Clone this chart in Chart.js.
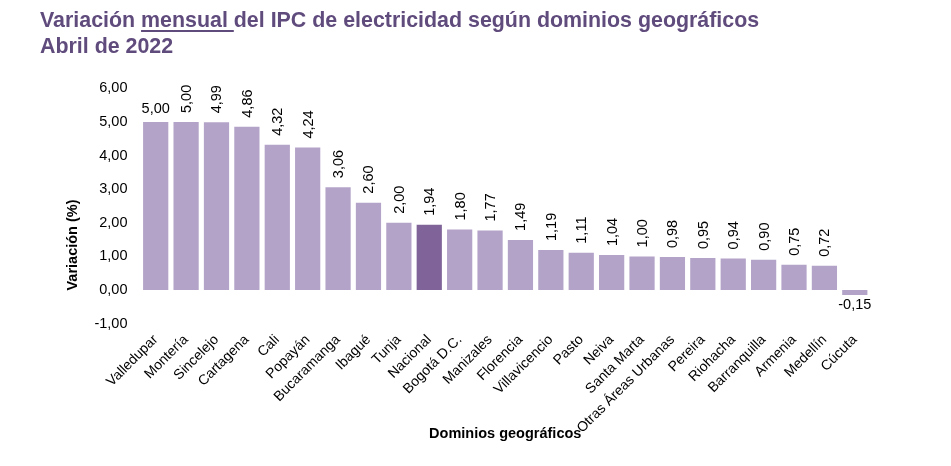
<!DOCTYPE html>
<html>
<head>
<meta charset="utf-8">
<script src="https://cdn.jsdelivr.net/npm/chart.js@4.4.0/dist/chart.umd.min.js"></script>
<style>
    html, body { margin: 0; padding: 0; background: #fff; }
    #wrap { position: relative; width: 951px; height: 466px; }
    #myChart { position: absolute; left: 0; top: 0; }
    #title {
        position: absolute; left: 40px; top: 7px;
        font: bold 21.4px/26px "Liberation Sans", Arial, sans-serif;
        color: #604b7d; white-space: nowrap;
    }
    #title u { text-decoration-thickness: 2px; text-underline-offset: 3px; }
</style>
</head>
<body>
<div id="wrap">
    <canvas id="myChart" width="951" height="466"></canvas>
    <div id="title">Variación <u>mensual </u>del IPC de electricidad según dominios geográficos<br>Abril de 2022</div>
</div>
<script>
var dominios = ["Valledupar", "Montería", "Sincelejo", "Cartagena", "Cali", "Popayán",
    "Bucaramanga", "Ibagué", "Tunja", "Nacional", "Bogotá D.C.", "Manizales", "Florencia",
    "Villavicencio", "Pasto", "Neiva", "Santa Marta", "Otras Áreas Urbanas", "Pereira",
    "Riohacha", "Barranquilla", "Armenia", "Medellín", "Cúcuta"];
var variacion = [5.00, 5.00, 4.99, 4.86, 4.32, 4.24, 3.06, 2.60, 2.00, 1.94, 1.80, 1.77, 1.49,
    1.19, 1.11, 1.04, 1.00, 0.98, 0.95, 0.94, 0.90, 0.75, 0.72, -0.15];
var yTicks = [-1, 0, 1, 2, 3, 4, 5, 6];

var fontFamily = '"Liberation Sans", Arial, sans-serif';

function fmt(v) {
    return v.toFixed(2).replace(".", ",");
}

var colores = [];
for (var i in dominios) {
    colores.push(dominios[i] === "Nacional" ? "#7f6399" : "#b3a3c8");
}

// etiquetas de datos: la primera y la negativa van horizontales, el resto verticales
var etiquetas = {
    id: "etiquetas",
    afterDatasetsDraw: function(chart) {
        var ctx = chart.ctx;
        var meta = chart.getDatasetMeta(0);
        ctx.save();
        ctx.fillStyle = "#000";
        ctx.font = "14.5px " + fontFamily;
        meta.data.forEach(function(bar, i) {
            var v = variacion[i];
            var txt = fmt(v);
            if (v < 0) {
                ctx.textAlign = "center";
                ctx.textBaseline = "top";
                ctx.fillText(txt, bar.x, bar.base + 5 + 3);
            } else if (i === 0) {
                ctx.textAlign = "center";
                ctx.textBaseline = "alphabetic";
                ctx.fillText(txt, bar.x, bar.y - 9);
            } else {
                ctx.save();
                ctx.translate(bar.x, bar.y - 9);
                ctx.rotate(-Math.PI / 2);
                ctx.textAlign = "left";
                ctx.textBaseline = "middle";
                ctx.fillText(txt, 0, 1);
                ctx.restore();
            }
        });
        ctx.restore();
    }
};

// titulo del eje Y
var tituloY = {
    id: "tituloY",
    afterDraw: function(chart) {
        var ctx = chart.ctx;
        ctx.save();
        ctx.translate(73, 245);
        ctx.rotate(-Math.PI / 2);
        ctx.fillStyle = "#000";
        ctx.font = "bold 14.5px " + fontFamily;
        ctx.textAlign = "center";
        ctx.textBaseline = "middle";
        ctx.fillText("Variación (%)", 0, 0);
        ctx.restore();
    }
};

var ctx = document.getElementById("myChart");

var BarGraph = new Chart(ctx, {
    type: "bar",
    data: {
        labels: dominios,
        datasets: [{
            label: "Variación mensual",
            data: variacion,
            backgroundColor: colores,
            borderWidth: 0,
            categoryPercentage: 1.0,
            barPercentage: 0.83
        }]
    },
    plugins: [etiquetas, tituloY],
    options: {
        responsive: false,
        animation: false,
        devicePixelRatio: 1,
        layout: {
            padding: { top: 88.4, right: 81, bottom: 0, left: 0 }
        },
        plugins: {
            legend: { display: false },
            title: { display: false },
            tooltip: { enabled: false }
        },
        scales: {
            x: {
                grid: { display: false, drawTicks: false },
                border: { display: false },
                ticks: {
                    autoSkip: false,
                    minRotation: 45,
                    maxRotation: 45,
                    padding: 8,
                    color: "#000",
                    font: { family: fontFamily, size: 14 }
                },
                title: {
                    display: true,
                    text: "Dominios geográficos",
                    color: "#000",
                    font: { family: fontFamily, size: 14.5, weight: "bold" },
                    padding: { top: 0, bottom: 23 }
                },
                afterFit: function(scale) {
                    scale.height = 466 - 323.6;
                }
            },
            y: {
                min: -1,
                max: 6,
                afterBuildTicks: function(scale) {
                    scale.ticks = yTicks.map(function(v) { return { value: v }; });
                },
                grid: { display: false, drawTicks: false },
                border: { display: false },
                ticks: {
                    padding: 13,
                    color: "#000",
                    font: { family: fontFamily, size: 14.5 },
                    callback: function(value) { return fmt(value); }
                },
                afterFit: function(scale) {
                    scale.width = 140.5;
                }
            }
        }
    }
});
</script>
</body>
</html>
